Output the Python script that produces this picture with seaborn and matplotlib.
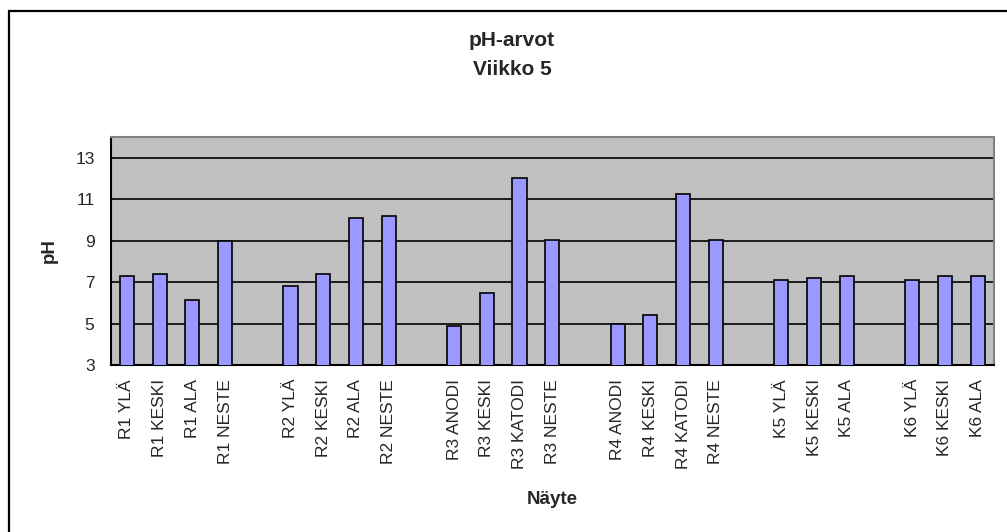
import numpy as np
import pandas as pd
import matplotlib
matplotlib.use("Agg")
import matplotlib.pyplot as plt
from matplotlib.patches import Rectangle
import seaborn as sns

# ---- data ----
r1_labels = ["R1 YLÄ", "R1 KESKI", "R1 ALA", "R1 NESTE"]
r1_values = [7.3, 7.4, 6.15, 8.97]
r2_labels = ["R2 YLÄ", "R2 KESKI", "R2 ALA", "R2 NESTE"]
r2_values = [6.8, 7.4, 10.1, 10.2]
r3_labels = ["R3 ANODI", "R3 KESKI", "R3 KATODI", "R3 NESTE"]
r3_values = [4.9, 6.45, 12.0, 9.05]
r4_labels = ["R4 ANODI", "R4 KESKI", "R4 KATODI", "R4 NESTE"]
r4_values = [5.0, 5.4, 11.25, 9.05]
k5_labels = ["K5 YLÄ", "K5 KESKI", "K5 ALA"]
k5_values = [7.1, 7.2, 7.3]
k6_labels = ["K6 YLÄ", "K6 KESKI", "K6 ALA"]
k6_values = [7.1, 7.3, 7.3]

y_ticks = [3, 5, 7, 9, 11, 13]
title_lines = ["pH-arvot", "Viikko 5"]
x_title = "Näyte"
y_title = "pH"

groups = [(r1_labels, r1_values), (r2_labels, r2_values), (r3_labels, r3_values),
          (r4_labels, r4_values), (k5_labels, k5_values), (k6_labels, k6_values)]

labels, values = [], []
for gi, (lab, val) in enumerate(groups):
    if gi > 0:
        labels.append("")
        values.append(np.nan)
    labels += lab
    values += val

df = pd.DataFrame({"pos": list(range(len(labels))), "label": labels, "pH": values})

sns.set_style("white")
plt.rcParams["font.family"] = ["Liberation Sans", "DejaVu Sans"]

W, H = 1007, 532
fig = plt.figure(figsize=(W / 100, H / 100), dpi=100)
ax = fig.add_axes([110.5 / W, 1 - 365 / H, (994 - 110.5) / W, (365 - 137) / H])
ax.set_facecolor("#C0C0C0")

sns.barplot(data=df.dropna(), x="pos", y="pH", order=list(range(len(labels))),
            color="#9999FF", edgecolor="black", linewidth=1.2, width=0.43,
            saturation=1, ax=ax, zorder=3)

ax.set_ylim(3, 14)
ax.set_xlim(-0.5, len(labels) - 0.5)
ax.set_yticks(y_ticks)
ax.set_yticklabels([str(t) for t in y_ticks], fontsize=12.5)
ax.yaxis.grid(True, color="black", linewidth=1.2, zorder=1)
ax.set_axisbelow(True)

ax.set_xticks(range(len(labels)))
ax.set_xticklabels(labels, rotation=90, fontsize=12.5)
ax.tick_params(axis="x", which="major", length=0, pad=10)
ax.set_xticks(np.arange(-0.5, len(labels), 1.0), minor=True)
ax.tick_params(axis="x", which="minor", length=4.5, width=1.2, color="black", direction="out")
ax.tick_params(axis="y", length=6.5, width=1.2, color="black", direction="out", pad=5)

for s in ["left", "bottom"]:
    ax.spines[s].set_color("black")
    ax.spines[s].set_linewidth(1.5)
for s in ["top", "right"]:
    ax.spines[s].set_color("#808080")
    ax.spines[s].set_linewidth(1.5)

ax.set_xlabel(x_title, fontsize=13.5, fontweight="bold")
ax.set_ylabel(y_title, fontsize=13.5, fontweight="bold")
# place axis titles by figure pixel positions
ax.xaxis.set_label_coords(0.5, (H - 500 - (H - 365)) / (365 - 137), transform=ax.transAxes)
ax.xaxis.label.set_va("center")
ax.yaxis.set_label_coords((49 - 110.5) / (994 - 110.5), 0.5, transform=ax.transAxes)
ax.yaxis.label.set_va("center")

fig.text(512 / W, 1 - 46.5 / H, title_lines[0], ha="center", va="baseline",
         fontsize=15, fontweight="bold")
fig.text(512 / W, 1 - 75 / H, title_lines[1], ha="center", va="baseline",
         fontsize=15, fontweight="bold")

fig.add_artist(Rectangle((8.5 / W, -0.1), 1.2, 1 - 11 / H + 0.1,
                         transform=fig.transFigure, fill=False,
                         edgecolor="black", linewidth=1.6))

fig.savefig("out.png", dpi=100, facecolor="white")
